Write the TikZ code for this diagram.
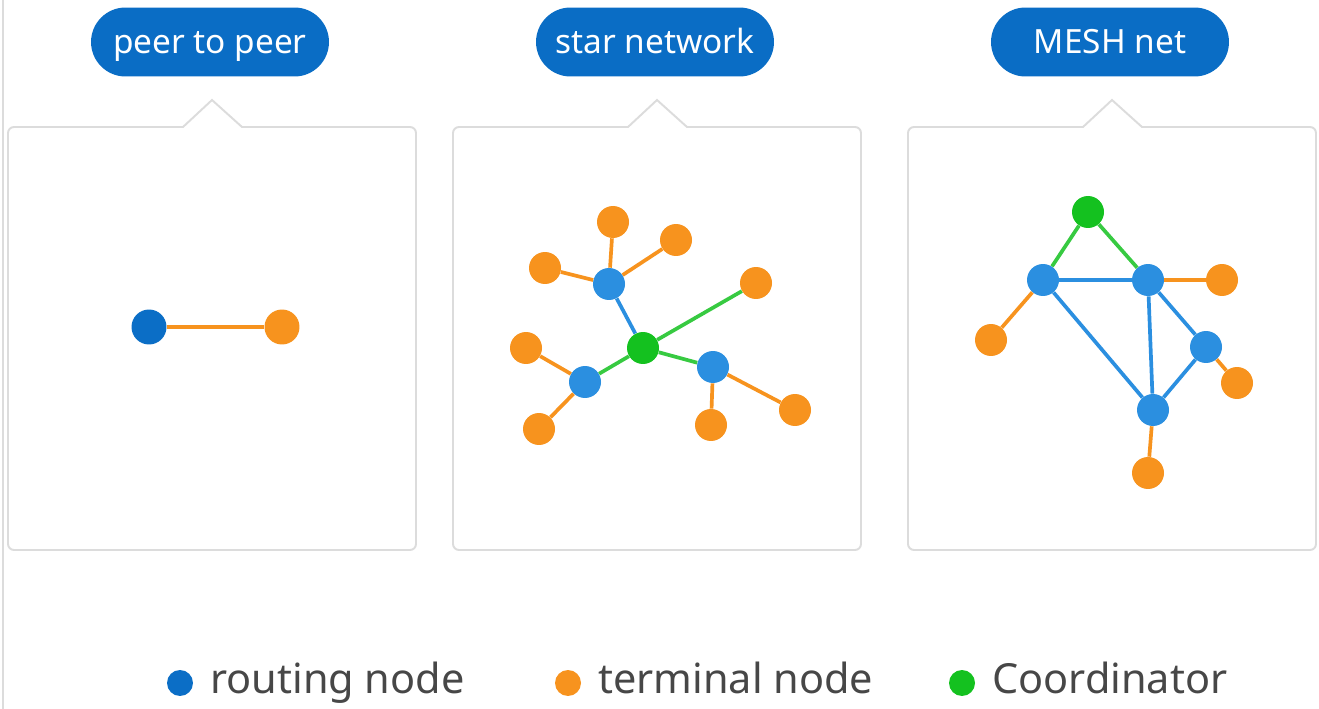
\documentclass[tikz,border=0pt]{standalone}
\usepackage{fontspec}
\setmainfont{Noto Sans}
\usetikzlibrary{positioning}
\definecolor{pillblue}{HTML}{0A6DC5}
\definecolor{rtblue}{HTML}{2B8FE0}
\definecolor{rtdark}{HTML}{0B6EC6}
\definecolor{termorange}{HTML}{F7931E}
\definecolor{coordgreen}{HTML}{14C11F}
\definecolor{panelgray}{HTML}{DCDCDC}
\definecolor{legendtext}{HTML}{474747}
\tikzset{
  panel/.style={draw=panelgray,line width=1.1pt,fill=white},
  pill/.style={fill=pillblue,text=white,rounded corners=0.69cm,
    minimum width=4.76cm,minimum height=1.38cm,inner sep=0pt,
    text height=13.6pt,text depth=0pt,
    font=\fontsize{19}{22}\selectfont},
  dot/.style={circle,inner sep=0pt,minimum size=0.64cm},
  routing/.style={dot,fill=rtblue},
  terminal/.style={dot,fill=termorange},
  coordnode/.style={dot,fill=coordgreen},
  olink/.style={draw=termorange,line width=2.1pt},
  blink/.style={draw=rtblue,line width=2.1pt},
  glink/.style={draw=coordgreen!85!white,line width=2.1pt},
  legend/.style={anchor=base west,text=legendtext,inner sep=0pt,
    font=\fontsize{23.6}{27}\selectfont}
}

\begin{document}
\begin{tikzpicture}[x=0.02cm,y=-0.02cm]
\useasboundingbox (0,0) rectangle (1319,709);
\draw[panelgray,line width=0.6pt] (3,0) -- (3,709);

% panels with their notch and title
\foreach \px/\cx/\title/\nm in {8/212/peer to peer/p,453/657/star network/s,908/1112/MESH net/m}{
  \draw[panel] (\cx,100) -- (\cx+30,127)
    [rounded corners=0.12cm] -- (\px+408,127) -- (\px+408,550)
    -- (\px,550) -- (\px,127) [sharp corners] -- (\cx-29,127) -- cycle;
  \node[pill] (title-\nm) at (\cx-2,42) {\title};
}

% peer to peer
\node[routing,fill=rtdark,minimum size=0.7cm] (p-r) at (149,327) {};
\node[terminal,minimum size=0.7cm] (p-t) at (282,327) {};
\draw[olink,line width=2.6pt] (p-r) -- (p-t);

% star network
\node[coordnode] (s-g) at (643,348) {};
\foreach \n/\x/\y in {r1/609/284,r2/585/382,r3/713/367}
  \node[routing] (s-\n) at (\x,\y) {};
\foreach \n/\x/\y in {t1/613/222,t2/676/240,t3/545/268,t4/756/283,
  t5/526/348,t6/539/429,t7/711/425,t8/795/410}
  \node[terminal] (s-\n) at (\x,\y) {};
\foreach \a/\b in {r1/t1,r1/t2,r1/t3,r2/t5,r2/t6,r3/t7,r3/t8}
  \draw[olink] (s-\a) -- (s-\b);
\draw[blink] (s-r1) -- (s-g);
\foreach \b in {t4,r2,r3}
  \draw[glink] (s-g) -- (s-\b);

% mesh net
\node[coordnode] (m-g) at (1088,212) {};
\foreach \n/\x/\y in {ra/1043/280,rb/1148/280,rc/1206/347,rd/1153/410}
  \node[routing] (m-\n) at (\x,\y) {};
\foreach \n/\x/\y in {t1/1222/280,t2/991/340,t3/1237/383,t4/1148/473}
  \node[terminal] (m-\n) at (\x,\y) {};
\foreach \b in {ra,rb}
  \draw[glink] (m-g) -- (m-\b);
\foreach \a/\b in {ra/rb,ra/rd,rb/rd,rb/rc,rc/rd}
  \draw[blink] (m-\a) -- (m-\b);
\foreach \a/\b in {rb/t1,ra/t2,rc/t3,rd/t4}
  \draw[olink] (m-\a) -- (m-\b);

% legend
\node[routing,fill=rtdark,minimum size=0.52cm] (key-r) at (180,683) {};
\node[legend] (key-r-txt) at (210,693) {routing node};
\node[terminal,minimum size=0.52cm] (key-t) at (568,683) {};
\node[legend] (key-t-txt) at (598,693) {terminal node};
\node[coordnode,minimum size=0.52cm] (key-c) at (962,683) {};
\node[legend] (key-c-txt) at (992,693) {Coordinator};
\end{tikzpicture}
\end{document}
